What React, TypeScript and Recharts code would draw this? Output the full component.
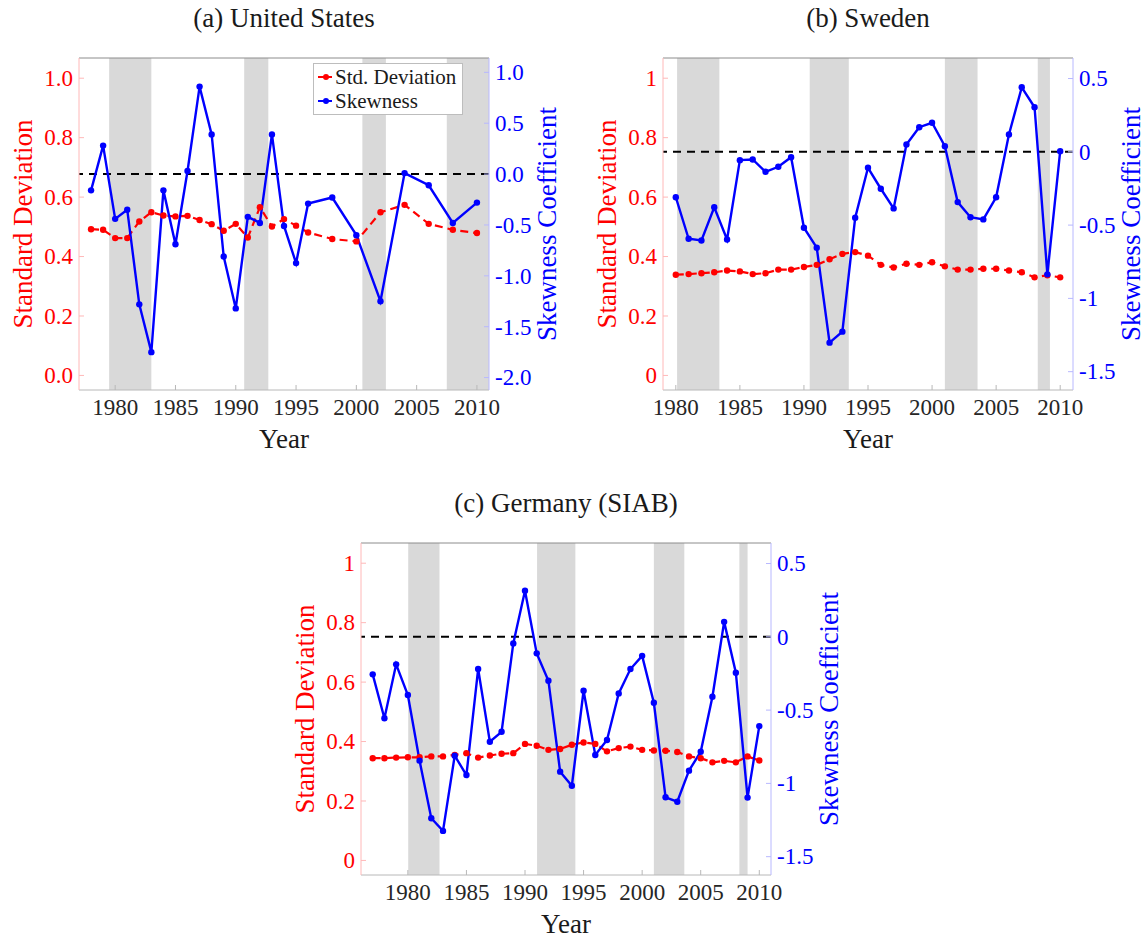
import React from 'react'
import {
  LineChart,
  Line,
  XAxis,
  YAxis,
  ReferenceArea,
  ReferenceLine,
  Legend,
} from 'recharts'

// ---- data ----
const usYears = [1978, 1979, 1980, 1981, 1982, 1983, 1984, 1985, 1986, 1987, 1988, 1989, 1990, 1991, 1992, 1993, 1994, 1995, 1996, 1998, 2000, 2002, 2004, 2006, 2008, 2010]
const usStd = [0.492, 0.49, 0.462, 0.462, 0.518, 0.549, 0.538, 0.535, 0.537, 0.523, 0.509, 0.487, 0.51, 0.464, 0.566, 0.501, 0.526, 0.504, 0.481, 0.459, 0.451, 0.549, 0.574, 0.51, 0.49, 0.479]
const usSkew = [-0.16, 0.28, -0.44, -0.35, -1.28, -1.75, -0.16, -0.69, 0.03, 0.86, 0.39, -0.81, -1.32, -0.42, -0.48, 0.39, -0.51, -0.875, -0.29, -0.23, -0.6, -1.25, 0.01, -0.11, -0.48, -0.28]
const usRecessions: [number, number][] = [[1979.5, 1983], [1990.7, 1992.7], [2000.5, 2002.45], [2007.5, 2011]]

const seYears = [1980, 1981, 1982, 1983, 1984, 1985, 1986, 1987, 1988, 1989, 1990, 1991, 1992, 1993, 1994, 1995, 1996, 1997, 1998, 1999, 2000, 2001, 2002, 2003, 2004, 2005, 2006, 2007, 2008, 2009, 2010]
const seStd = [0.339, 0.341, 0.344, 0.347, 0.353, 0.35, 0.341, 0.344, 0.356, 0.356, 0.365, 0.372, 0.391, 0.409, 0.415, 0.403, 0.372, 0.363, 0.376, 0.372, 0.381, 0.367, 0.356, 0.356, 0.359, 0.359, 0.353, 0.347, 0.33, 0.337, 0.33]
const seSkew = [-0.31, -0.593, -0.605, -0.378, -0.598, -0.057, -0.052, -0.136, -0.102, -0.037, -0.518, -0.654, -1.302, -1.227, -0.45, -0.109, -0.252, -0.386, 0.05, 0.168, 0.198, 0.038, -0.343, -0.446, -0.461, -0.31, 0.118, 0.44, 0.304, -0.836, 0.004]
const seRecessions: [number, number][] = [[1980.1, 1983.4], [1990.45, 1993.5], [2001, 2003.55], [2008.25, 2009.2]]

const deYears = [1977, 1978, 1979, 1980, 1981, 1982, 1983, 1984, 1985, 1986, 1987, 1988, 1989, 1990, 1991, 1992, 1993, 1994, 1995, 1996, 1997, 1998, 1999, 2000, 2001, 2002, 2003, 2004, 2005, 2006, 2007, 2008, 2009, 2010]
const deStd = [0.344, 0.344, 0.346, 0.347, 0.347, 0.35, 0.35, 0.355, 0.361, 0.346, 0.353, 0.359, 0.361, 0.392, 0.386, 0.372, 0.375, 0.389, 0.397, 0.392, 0.367, 0.378, 0.383, 0.372, 0.37, 0.369, 0.365, 0.35, 0.344, 0.33, 0.335, 0.33, 0.35, 0.336]
const deSkew = [-0.256, -0.556, -0.188, -0.397, -0.845, -1.238, -1.324, -0.811, -0.943, -0.22, -0.716, -0.648, -0.045, 0.314, -0.113, -0.3, -0.92, -1.016, -0.368, -0.806, -0.704, -0.386, -0.22, -0.13, -0.45, -1.095, -1.125, -0.913, -0.784, -0.409, 0.102, -0.245, -1.097, -0.609]
const deRecessions: [number, number][] = [[1980.03, 1982.7], [1991.03, 1994.3], [2001, 2003.6], [2008.3, 2009]]

const xTicks = [1980, 1985, 1990, 1995, 2000, 2005, 2010]
const stdTicks = [0, 0.2, 0.4, 0.6, 0.8, 1]
const usSkewTicks = [-2, -1.5, -1, -0.5, 0, 0.5, 1]
const skewTicks = [-1.5, -1, -0.5, 0, 0.5]

const FONT = '"Liberation Serif", "Times New Roman", serif'
const RED = '#ff0000'
const BLUE = '#0000ff'
const PLOT_W = 410
const PLOT_H = 332
const AX_L = 80
const AX_R = 90
const TOP = 60
const XH = 50
const TICK_FS = 23

const LeftTick = (fmt: (v: number) => string) => (p: any) => (
  <g>
    <line x1={p.x + 6} x2={p.x + 11} y1={p.y} y2={p.y} stroke="#ffb8b8" />
    <text x={p.x} y={p.y} dy="0.34em" textAnchor="end" fill={RED} fontSize={TICK_FS} fontFamily={FONT}>
      {fmt(p.payload.value)}
    </text>
  </g>
)

const RightTick = (fmt: (v: number) => string) => (p: any) => (
  <g>
    <line x1={p.x - 6} x2={p.x - 11} y1={p.y} y2={p.y} stroke="#b8b8ff" />
    <text x={p.x} y={p.y} dy="0.34em" textAnchor="start" fill={BLUE} fontSize={TICK_FS} fontFamily={FONT}>
      {fmt(p.payload.value)}
    </text>
  </g>
)

const BottomTick = (p: any) => (
  <g>
    <line x1={p.x} x2={p.x} y1={p.y - 8} y2={p.y - 13} stroke="#b8b8b8" />
    <text x={p.x} y={p.y} dy="0.72em" textAnchor="middle" fill="#262626" fontSize={TICK_FS} fontFamily={FONT}>
      {p.payload.value}
    </text>
  </g>
)

function LegendBox() {
  const row = (color: string, label: string) => (
    <div style={{ display: 'flex', alignItems: 'center', height: 24 }}>
      <svg width={16} height={10} style={{ marginRight: 2 }}>
        <line x1={1} x2={15} y1={5} y2={5} stroke={color} strokeWidth={2} />
        <circle cx={9} cy={5} r={3} fill={color} />
      </svg>
      <span>{label}</span>
    </div>
  )
  return (
    <div
      style={{
        border: '1px solid #bdbdbd',
        background: '#fff',
        padding: '1px 3px',
        fontFamily: FONT,
        fontSize: 21,
        color: '#1a1a1a',
        lineHeight: '24px',
      }}
    >
      {row(RED, 'Std. Deviation')}
      {row(BLUE, 'Skewness')}
    </div>
  )
}

interface PanelProps {
  x: number
  y: number
  title: string
  years: number[]
  std: number[]
  skew: number[]
  recessions: [number, number][]
  xDomain: [number, number]
  stdDomain: [number, number]
  skewDomain: [number, number]
  skewAxisTicks: number[]
  fmtStd: (v: number) => string
  fmtSkew: (v: number) => string
  legend?: boolean
}

function Panel(props: PanelProps) {
  const { x, y, title, years, std, skew, recessions, xDomain, stdDomain, skewDomain } = props
  const rows = years.map((year, i) => ({ year, std: std[i], skew: skew[i] }))
  const cx = x + PLOT_W / 2
  const cy = y + PLOT_H / 2
  const txt: React.CSSProperties = {
    position: 'absolute',
    whiteSpace: 'nowrap',
    fontFamily: FONT,
    lineHeight: 1,
  }
  return (
    <>
      <div style={{ ...txt, left: cx, top: y - 40, fontSize: 27, color: '#1a1a1a', transform: 'translate(-50%, -50%)' }}>
        {title}
      </div>
      <div style={{ ...txt, left: cx, top: y + PLOT_H + 49, fontSize: 27, color: '#1a1a1a', transform: 'translate(-50%, -50%)' }}>
        Year
      </div>
      <div style={{ ...txt, left: x - 56, top: cy, fontSize: 27, color: RED, transform: 'translate(-50%, -50%) rotate(-90deg)' }}>
        Standard Deviation
      </div>
      <div style={{ ...txt, left: x + PLOT_W + 58, top: cy, fontSize: 27, color: BLUE, transform: 'translate(-50%, -50%) rotate(-90deg)' }}>
        Skewness Coefficient
      </div>
      <div style={{ position: 'absolute', left: x - AX_L, top: y - TOP }}>
        <LineChart
          width={AX_L + PLOT_W + AX_R}
          height={TOP + PLOT_H + XH}
          data={rows}
          margin={{ top: TOP, right: 0, bottom: 0, left: 0 }}
        >
          <XAxis
            dataKey="year"
            type="number"
            domain={xDomain}
            ticks={xTicks}
            interval={0}
            allowDataOverflow
            height={XH}
            tickSize={0}
            tickMargin={8}
            tick={BottomTick}
            axisLine={{ stroke: '#b8b8b8' }}
          />
          <YAxis
            yAxisId="left"
            orientation="left"
            type="number"
            domain={stdDomain}
            ticks={stdTicks}
            interval={0}
            allowDataOverflow
            width={AX_L}
            tickSize={0}
            tickMargin={6}
            tick={LeftTick(props.fmtStd)}
            axisLine={{ stroke: '#ffb8b8' }}
          />
          <YAxis
            yAxisId="right"
            orientation="right"
            type="number"
            domain={skewDomain}
            ticks={props.skewAxisTicks}
            interval={0}
            allowDataOverflow
            width={AX_R}
            tickSize={0}
            tickMargin={6}
            tick={RightTick(props.fmtSkew)}
            axisLine={{ stroke: '#b8b8ff' }}
          />
          {recessions.map(([a, b], i) => (
            <ReferenceArea
              key={i}
              x1={a}
              x2={b}
              yAxisId="left"
              fill="#d9d9d9"
              fillOpacity={1}
              stroke="none"
            />
          ))}
          <ReferenceLine yAxisId="left" y={stdDomain[1]} stroke="#8c8c8c" strokeWidth={1} />
          <ReferenceLine yAxisId="right" y={0} stroke="#000" strokeWidth={2} strokeDasharray="8 6" />
          <Line
            yAxisId="left"
            dataKey="std"
            type="linear"
            stroke={RED}
            strokeWidth={2.2}
            strokeDasharray="8 5"
            dot={{ r: 3.2, fill: RED, strokeWidth: 0 }}
            isAnimationActive={false}
          />
          <Line
            yAxisId="right"
            dataKey="skew"
            type="linear"
            stroke={BLUE}
            strokeWidth={2.4}
            dot={{ r: 3.2, fill: BLUE, strokeWidth: 0 }}
            isAnimationActive={false}
          />
          {props.legend && (
            <Legend
              layout="horizontal"
              verticalAlign="middle"
              align="center"
              content={<LegendBox />}
              wrapperStyle={{ left: 314, top: 65, width: 150 }}
            />
          )}
        </LineChart>
      </div>
    </>
  )
}

const oneDec = (v: number) => v.toFixed(1)
const plain = (v: number) => String(v)

export default function App() {
  return (
    <div style={{ position: 'absolute', left: 0, top: 0, width: 1146, height: 939, background: '#fff', overflow: 'hidden' }}>
      <Panel
        x={79}
        y={58}
        title="(a) United States"
        years={usYears}
        std={usStd}
        skew={usSkew}
        recessions={usRecessions}
        xDomain={[1977, 2011]}
        stdDomain={[-0.049, 1.068]}
        skewDomain={[-2.122, 1.141]}
        skewAxisTicks={usSkewTicks}
        fmtStd={oneDec}
        fmtSkew={oneDec}
        legend
      />
      <Panel
        x={663}
        y={58}
        title="(b) Sweden"
        years={seYears}
        std={seStd}
        skew={seSkew}
        recessions={seRecessions}
        xDomain={[1979, 2011]}
        stdDomain={[-0.049, 1.068]}
        skewDomain={[-1.625, 0.64]}
        skewAxisTicks={skewTicks}
        fmtStd={plain}
        fmtSkew={plain}
      />
      <Panel
        x={361}
        y={543}
        title="(c) Germany (SIAB)"
        years={deYears}
        std={deStd}
        skew={deSkew}
        recessions={deRecessions}
        xDomain={[1976, 2011]}
        stdDomain={[-0.049, 1.068]}
        skewDomain={[-1.625, 0.64]}
        skewAxisTicks={skewTicks}
        fmtStd={plain}
        fmtSkew={plain}
      />
    </div>
  )
}
